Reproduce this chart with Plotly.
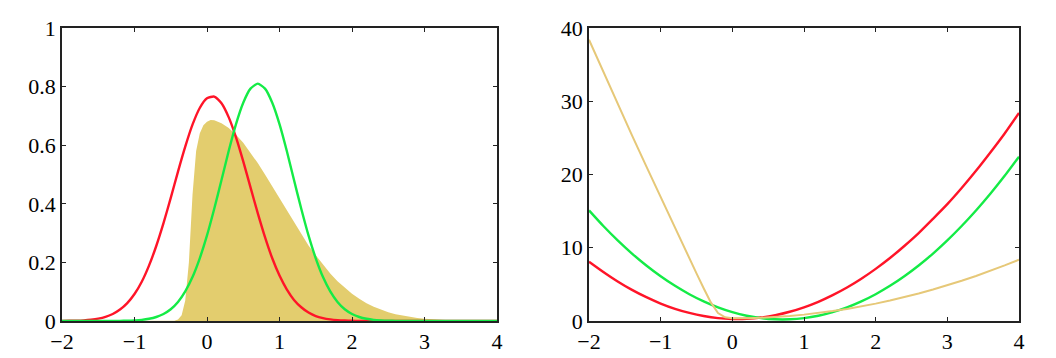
import numpy as np
import plotly.graph_objects as go

# ---------------- data ----------------
# left panel: densities
z_left = [round(v, 1) for v in np.arange(-2.0, 4.01, 0.1)]
laplace_pdf = [0.0003, 0.0006, 0.0012, 0.0023, 0.0044, 0.008, 0.014, 0.024, 0.039, 0.061,
               0.092, 0.134, 0.189, 0.256, 0.334, 0.420, 0.510, 0.595, 0.670, 0.727,
               0.760, 0.766, 0.743, 0.695, 0.627, 0.545, 0.456, 0.368, 0.286, 0.214,
               0.155, 0.108, 0.072, 0.047, 0.029, 0.017, 0.010, 0.0056, 0.003, 0.0015,
               0.0008, 0.0004, 0.0002, 0.0001, 0, 0, 0, 0, 0, 0,
               0, 0, 0, 0, 0, 0, 0, 0, 0, 0, 0]
variational_pdf = [0, 0, 0, 0, 0, 0, 0, 0, 0.0004, 0.0009,
                   0.002, 0.0039, 0.0075, 0.0137, 0.024, 0.040, 0.065, 0.101, 0.150, 0.214,
                   0.292, 0.383, 0.481, 0.581, 0.672, 0.745, 0.793, 0.810, 0.793, 0.745,
                   0.672, 0.581, 0.481, 0.383, 0.292, 0.214, 0.150, 0.101, 0.065, 0.040,
                   0.024, 0.0137, 0.0075, 0.0039, 0.002, 0.0009, 0.0004, 0.0001, 0, 0,
                   0, 0, 0, 0, 0, 0, 0, 0, 0, 0, 0]

z_true = [-2.0, -0.5, -0.45, -0.4, -0.35, -0.3, -0.25, -0.2, -0.15, -0.1, -0.05, 0.0, 0.05, 0.1,
          0.2, 0.3, 0.4, 0.5, 0.6, 0.7, 0.8, 0.9, 1.0, 1.1, 1.2, 1.3, 1.4, 1.5, 1.6, 1.7, 1.8,
          1.9, 2.0, 2.1, 2.2, 2.3, 2.4, 2.5, 2.6, 2.7, 2.8, 2.9, 3.0, 3.2, 3.4, 3.6, 3.8, 4.0]
true_pdf = [0, 0, 0.001, 0.005, 0.02, 0.07, 0.2, 0.43, 0.58, 0.64, 0.668, 0.68, 0.686, 0.685,
            0.675, 0.659, 0.636, 0.608, 0.575, 0.539, 0.500, 0.460, 0.418, 0.376, 0.336, 0.296,
            0.258, 0.224, 0.191, 0.162, 0.136, 0.113, 0.093, 0.076, 0.061, 0.049, 0.039, 0.030,
            0.023, 0.018, 0.0137, 0.0103, 0.0076, 0.0041, 0.0021, 0.0011, 0.0005, 0.0002]

# right panel: negative logs
z_right = [round(v, 1) for v in np.arange(-2.0, 4.01, 0.2)]
laplace_nlog = [8.1, 6.7, 5.4, 4.25, 3.25, 2.38, 1.66, 1.1, 0.68, 0.4, 0.28,
                0.3, 0.47, 0.79, 1.26, 1.87, 2.62, 3.53, 4.57, 5.77, 7.12,
                8.6, 10.24, 12.0, 13.95, 15.95, 18.15, 20.5, 23.0, 25.6, 28.4]
variational_nlog = [15.1, 12.97, 11.01, 9.21, 7.58, 6.11, 4.8, 3.66, 2.68, 1.86, 1.21,
                    0.72, 0.39, 0.23, 0.23, 0.39, 0.72, 1.21, 1.86, 2.68, 3.66,
                    4.8, 6.11, 7.58, 9.21, 11.01, 12.97, 15.09, 17.37, 19.82, 22.43]
z_true_r = [-2.0, -1.8, -1.6, -1.4, -1.2, -1.0, -0.8, -0.6, -0.5, -0.4, -0.3, -0.2, -0.1, 0.0,
            0.1, 0.2, 0.4, 0.6, 0.8, 1.0, 1.2, 1.4, 1.6, 1.8, 2.0, 2.2, 2.4, 2.6, 2.8, 3.0,
            3.2, 3.4, 3.6, 3.8, 4.0]
true_nlog = [38.4, 34.0, 29.65, 25.35, 21.1, 16.87, 12.69, 8.55, 6.5, 4.47, 2.54, 1.08, 0.5, 0.39,
             0.38, 0.39, 0.45, 0.55, 0.69, 0.87, 1.09, 1.35, 1.65, 1.99, 2.37, 2.79, 3.25, 3.75,
             4.29, 4.87, 5.49, 6.15, 6.85, 7.59, 8.37]

x_ticks = [-2, -1, 0, 1, 2, 3, 4]
x_ticktext = ["\u22122", "\u22121", "0", "1", "2", "3", "4"]
y_ticks_left = [0, 0.2, 0.4, 0.6, 0.8, 1]
y_ticktext_left = ["0", "0.2", "0.4", "0.6", "0.8", "1"]
y_ticks_right = [0, 10, 20, 30, 40]
y_ticktext_right = ["0", "10", "20", "30", "40"]

# ---------------- styling ----------------
RED = "#FF1428"
GREEN = "#14EB46"
GOLD = "#E3CD6E"
GOLD_LINE = "#E6C878"
FONT = "Liberation Serif"

fig = go.Figure()

# left panel
fig.add_trace(go.Scatter(x=z_true, y=true_pdf, mode="lines", fill="tozeroy",
                         fillcolor=GOLD, line=dict(width=0, color=GOLD),
                         xaxis="x", yaxis="y", showlegend=False))
fig.add_trace(go.Scatter(x=z_left, y=laplace_pdf, mode="lines",
                         line=dict(color=RED, width=2.4, shape="spline", smoothing=0.6),
                         xaxis="x", yaxis="y", showlegend=False))
fig.add_trace(go.Scatter(x=z_left, y=variational_pdf, mode="lines",
                         line=dict(color=GREEN, width=2.4, shape="spline", smoothing=0.6),
                         xaxis="x", yaxis="y", showlegend=False))

# right panel
fig.add_trace(go.Scatter(x=z_right, y=laplace_nlog, mode="lines",
                         line=dict(color=RED, width=2.4, shape="spline", smoothing=0.6),
                         xaxis="x2", yaxis="y2", showlegend=False))
fig.add_trace(go.Scatter(x=z_right, y=variational_nlog, mode="lines",
                         line=dict(color=GREEN, width=2.4, shape="spline", smoothing=0.6),
                         xaxis="x2", yaxis="y2", showlegend=False))
fig.add_trace(go.Scatter(x=z_true_r, y=true_nlog, mode="lines",
                         line=dict(color=GOLD_LINE, width=2),
                         xaxis="x2", yaxis="y2", showlegend=False))

W, H = 1056, 358
OFF = 8  # page offset of the figure
ax_common = dict(showgrid=False, zeroline=False, showline=True, linecolor="#222222",
                 linewidth=1.5, mirror="ticks", ticks="inside", ticklen=4, tickwidth=1.2,
                 tickcolor="#222222", automargin=False,
                 tickfont=dict(family=FONT, size=22, color="#000000"))

fig.update_layout(
    width=W, height=H, margin=dict(l=0, r=0, t=0, b=0),
    paper_bgcolor="white", plot_bgcolor="white",
    font=dict(family=FONT),
    xaxis=dict(domain=[(62 - OFF) / W, (497 - OFF) / W], range=[-2, 4], tickvals=x_ticks,
               ticktext=x_ticktext, anchor="y", **ax_common),
    yaxis=dict(domain=[1 - (321 - OFF) / H, 1 - (28 - OFF) / H], range=[0, 1],
               tickvals=y_ticks_left, ticktext=y_ticktext_left, anchor="x", **ax_common),
    xaxis2=dict(domain=[(589 - OFF) / W, (1019 - OFF) / W], range=[-2, 4], tickvals=x_ticks,
                ticktext=x_ticktext, anchor="y2", **ax_common),
    yaxis2=dict(domain=[1 - (321 - OFF) / H, 1 - (28 - OFF) / H], range=[0, 40],
                tickvals=y_ticks_right, ticktext=y_ticktext_right, anchor="x2", **ax_common),
)

fig.write_html("out.html")
